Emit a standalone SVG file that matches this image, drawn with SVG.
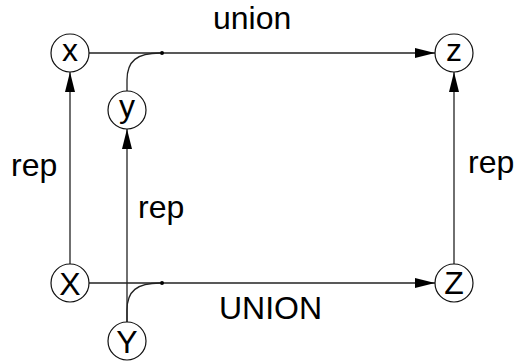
<svg xmlns="http://www.w3.org/2000/svg" width="518" height="362" viewBox="0 0 518 362">
<defs>
<style>
.n{fill:#fff;stroke:#111;stroke-width:1.2}
.l{font-family:"Liberation Sans",Arial,sans-serif;font-size:32px;fill:#000;text-anchor:middle}
.t{font-family:"Liberation Sans",Arial,sans-serif;font-size:32px;fill:#000}
.e{fill:none;stroke:#222;stroke-width:1.3}
</style>
<marker id="a" viewBox="0 0 20 10" refX="20" refY="5" markerWidth="20" markerHeight="10" markerUnits="userSpaceOnUse" orient="auto">
<path d="M0,0 L20,5 L0,10 Z" fill="#000"/>
</marker>
</defs>
<rect width="518" height="362" fill="#fff"/>
<g id="connectors">
<path class="e" d="M89,53 L435,53" marker-end="url(#a)"/>
<path class="e" d="M127,91 L127,80 C127,61 137,53 160,53"/>
<circle cx="162" cy="53" r="2" fill="#000"/>
<path class="e" d="M89,283 L435,283" marker-end="url(#a)"/>
<path class="e" d="M127,322 L127,310 C127,291 137,283 160,283"/>
<circle cx="162" cy="283" r="2" fill="#000"/>
<path class="e" d="M70,264 L70,72" marker-end="url(#a)"/>
<path class="e" d="M127,322 L127,129" marker-end="url(#a)"/>
<path class="e" d="M454,264 L454,72" marker-end="url(#a)"/>
</g>
<g id="node-x"><circle class="n" cx="70" cy="53" r="19"/><text class="l" x="70" y="61">x</text></g>
<g id="node-y"><circle class="n" cx="127" cy="110" r="19"/><text class="l" x="127" y="117">y</text></g>
<g id="node-z"><circle class="n" cx="454" cy="53" r="19"/><text class="l" x="454" y="61">z</text></g>
<g id="node-X"><circle class="n" cx="70" cy="283" r="19"/><text class="l" x="70" y="295">X</text></g>
<g id="node-Y"><circle class="n" cx="127" cy="341" r="19"/><text class="l" x="127" y="353">Y</text></g>
<g id="node-Z"><circle class="n" cx="454" cy="283" r="19"/><text class="l" x="454" y="294">Z</text></g>
<g id="labels">
<text class="t" x="213" y="29">union</text>
<text class="t" x="219" y="319">UNION</text>
<text class="t" x="11" y="176">rep</text>
<text class="t" x="138" y="218">rep</text>
<text class="t" x="468" y="173">rep</text>
</g>
</svg>
